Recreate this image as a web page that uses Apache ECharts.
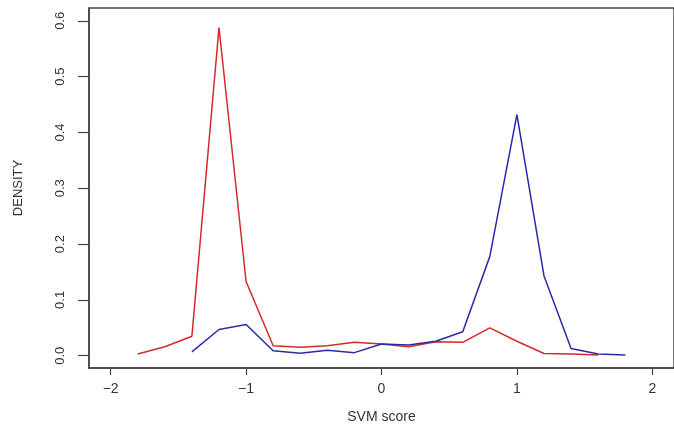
<!DOCTYPE html>
<html>
<head>
<meta charset="utf-8">
<script src="https://cdn.jsdelivr.net/npm/echarts@6/dist/echarts.min.js"></script>
<style>html,body{margin:0;padding:0;background:#fff;}#c{width:674px;height:430px;}</style>
</head>
<body>
<div id="c"></div>
<script>
const redX = [-1.8, -1.6, -1.4, -1.2, -1.0, -0.8, -0.6, -0.4, -0.2, 0.0, 0.2, 0.4, 0.6, 0.8, 1.0, 1.2, 1.4, 1.6];
const redY = [0.003, 0.016, 0.035, 0.588, 0.133, 0.018, 0.015, 0.018, 0.024, 0.021, 0.016, 0.025, 0.024, 0.050, 0.026, 0.004, 0.003, 0.0015];
const blueX = [-1.4, -1.2, -1.0, -0.8, -0.6, -0.4, -0.2, 0.0, 0.2, 0.4, 0.6, 0.8, 1.0, 1.2, 1.4, 1.6, 1.8];
const blueY = [0.007, 0.047, 0.056, 0.009, 0.0045, 0.010, 0.0055, 0.021, 0.019, 0.026, 0.043, 0.178, 0.432, 0.143, 0.013, 0.003, 0.0015];
const xTicks = [-2, -1, 0, 1, 2];
const yTicks = [0, 0.1, 0.2, 0.3, 0.4, 0.5, 0.6];

const pairs = (xs, ys) => xs.map((x, i) => [x, ys[i]]);
const font = 'Liberation Sans, Arial, sans-serif';
const chart = echarts.init(document.getElementById('c'), null, {renderer: 'canvas'});
chart.setOption({
  animation: false,
  backgroundColor: '#fff',
  grid: {left: 89, top: 8, width: 589, height: 360, show: true, borderColor: '#444', borderWidth: 1.5, backgroundColor: 'transparent'},
  xAxis: {
    type: 'value', min: -2.16, max: 2.16,
    name: 'SVM score', nameLocation: 'middle', nameGap: 42,
    nameTextStyle: {fontFamily: font, fontSize: 14, color: '#333'},
    axisLine: {show: true, onZero: false, lineStyle: {color: '#444', width: 1.5}},
    axisTick: {show: true, customValues: xTicks, length: 7, lineStyle: {color: '#444', width: 1.2}},
    axisLabel: {customValues: xTicks, margin: 14, fontFamily: font, fontSize: 14, color: '#333',
      formatter: v => String(v).replace('-', '\u2212')},
    splitLine: {show: false}
  },
  yAxis: {
    type: 'value', min: -0.022, max: 0.623,
    name: 'DENSITY', nameLocation: 'middle', nameGap: 64, nameRotate: 90,
    nameTextStyle: {fontFamily: font, fontSize: 13, color: '#333'},
    axisLine: {show: true, onZero: false, lineStyle: {color: '#444', width: 1.5}},
    axisTick: {show: true, customValues: yTicks, length: 11, lineStyle: {color: '#444', width: 1.2}},
    axisLabel: {customValues: yTicks, rotate: 90, margin: 22, fontFamily: font, fontSize: 13, color: '#333',
      formatter: v => v.toFixed(1)},
    splitLine: {show: false}
  },
  series: [
    {type: 'line', data: pairs(redX, redY), symbol: 'none', lineStyle: {color: '#d42a2a', width: 1.5}},
    {type: 'line', data: pairs(blueX, blueY), symbol: 'none', lineStyle: {color: '#2a2aa8', width: 1.5}}
  ]
});
</script>
</body>
</html>
